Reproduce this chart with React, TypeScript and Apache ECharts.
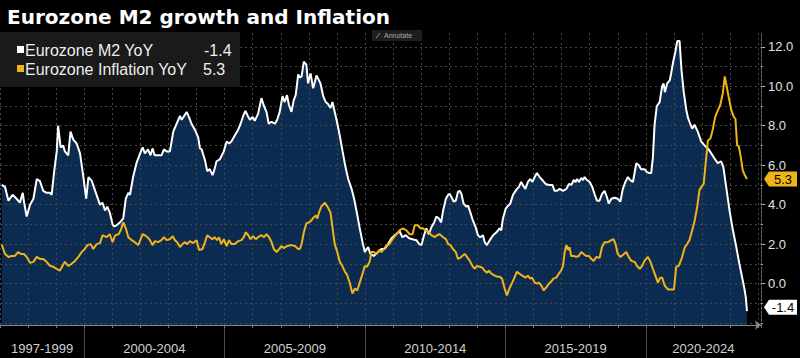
import React, { useEffect, useRef } from "react";
import * as echarts from "echarts";

// Eurozone M2 YoY (%), sampled along the time axis (decimal years)
const m2Years = [
  1997.06, 1997.18, 1997.3, 1997.45, 1997.59, 1997.71, 1997.81, 1997.86, 1997.95, 1998.07,
  1998.19, 1998.31, 1998.42, 1998.54, 1998.66, 1998.78, 1998.84, 1998.93, 1999.02, 1999.07,
  1999.16, 1999.25, 1999.31, 1999.43, 1999.51, 1999.61, 1999.73, 1999.85, 1999.96, 2000.07,
  2000.15, 2000.27, 2000.39, 2000.56, 2000.65, 2000.74, 2000.82, 2000.91, 2001.01, 2001.06,
  2001.15, 2001.27, 2001.39, 2001.48, 2001.57, 2001.63, 2001.74, 2001.86, 2001.99, 2002.08,
  2002.16, 2002.27, 2002.36, 2002.43, 2002.51, 2002.63, 2002.75, 2002.84, 2002.93, 2003.05,
  2003.17, 2003.29, 2003.41, 2003.47, 2003.56, 2003.65, 2003.74, 2003.82, 2003.94, 2004.06,
  2004.12, 2004.18, 2004.3, 2004.38, 2004.47, 2004.57, 2004.63, 2004.71, 2004.83, 2004.97,
  2005.07, 2005.16, 2005.24, 2005.36, 2005.48, 2005.57, 2005.66, 2005.74, 2005.84, 2005.9,
  2005.99, 2006.07, 2006.19, 2006.31, 2006.4, 2006.49, 2006.57, 2006.67, 2006.79, 2006.87,
  2006.96, 2007.06, 2007.14, 2007.22, 2007.29, 2007.38, 2007.46, 2007.53, 2007.62, 2007.68,
  2007.74, 2007.82, 2007.91, 2007.97, 2008.06, 2008.15, 2008.21, 2008.27, 2008.36, 2008.41,
  2008.51, 2008.6, 2008.68, 2008.77, 2008.84, 2008.92, 2009.0, 2009.1, 2009.2, 2009.29,
  2009.4, 2009.52, 2009.61, 2009.72, 2009.81, 2009.91, 2009.99, 2010.11, 2010.19, 2010.31,
  2010.46, 2010.58, 2010.7, 2010.82, 2010.94, 2011.06, 2011.23, 2011.33, 2011.45, 2011.57,
  2011.69, 2011.83, 2011.93, 2012.01, 2012.1, 2012.18, 2012.27, 2012.36, 2012.46, 2012.54,
  2012.63, 2012.71, 2012.78, 2012.88, 2012.96, 2013.01, 2013.07, 2013.16, 2013.23, 2013.31,
  2013.37, 2013.43, 2013.51, 2013.6, 2013.67, 2013.75, 2013.84, 2013.94, 2014.02, 2014.1,
  2014.2, 2014.26, 2014.34, 2014.44, 2014.56, 2014.68, 2014.79, 2014.85, 2014.91, 2015.01,
  2015.09, 2015.17, 2015.27, 2015.36, 2015.41, 2015.48, 2015.56, 2015.62, 2015.71, 2015.8,
  2015.88, 2015.96, 2016.04, 2016.12, 2016.22, 2016.31, 2016.43, 2016.55, 2016.67, 2016.75,
  2016.83, 2016.93, 2017.05, 2017.17, 2017.26, 2017.35, 2017.43, 2017.5, 2017.55, 2017.62,
  2017.7, 2017.76, 2017.82, 2017.9, 2018.0, 2018.09, 2018.17, 2018.26, 2018.35, 2018.44,
  2018.53, 2018.61, 2018.68, 2018.77, 2018.88, 2019.0, 2019.09, 2019.18, 2019.27, 2019.36,
  2019.44, 2019.54, 2019.66, 2019.75, 2019.83, 2019.95, 2020.04, 2020.13, 2020.19, 2020.25,
  2020.31, 2020.39, 2020.49, 2020.58, 2020.63, 2020.68, 2020.76, 2020.85, 2020.9, 2020.96,
  2021.05, 2021.12, 2021.2, 2021.27, 2021.35, 2021.44, 2021.5, 2021.58, 2021.65, 2021.73,
  2021.85, 2021.97, 2022.09, 2022.21, 2022.33, 2022.44, 2022.56, 2022.68, 2022.76, 2022.86,
  2022.98, 2023.1, 2023.22, 2023.33, 2023.43, 2023.51, 2023.56, 2023.6,
];
const m2Values = [
  5.0, 4.9, 4.2, 4.5, 4.3, 4.1, 4.6, 4.1, 3.4, 4.0,
  4.3, 5.3, 5.2, 4.7, 4.6, 4.6, 4.5, 5.7, 6.7, 8.0,
  6.9, 7.0, 6.7, 6.5, 7.7, 7.3, 7.1, 6.6, 5.5, 4.3,
  5.4, 5.2, 4.7, 4.0, 4.1, 3.7, 3.9, 3.6, 3.0, 2.9,
  2.95, 3.1, 3.3, 4.3, 4.6, 4.5, 5.4, 6.1, 6.6, 6.9,
  6.6, 6.8, 6.5, 6.85, 6.5, 6.5, 6.5, 6.8, 6.7, 6.7,
  7.7, 8.1, 8.5, 8.3, 8.5, 8.7, 8.4, 8.1, 7.8, 7.4,
  6.85, 6.8, 6.25, 5.7, 5.8, 5.5, 5.75, 6.2, 6.3, 6.7,
  7.2, 7.1, 7.2, 7.5, 7.8, 8.1, 8.5, 8.75, 8.45, 8.3,
  8.45, 8.25, 8.6, 9.4, 9.0, 8.7, 8.1, 8.2, 8.1, 8.3,
  8.7, 9.5, 9.2, 9.55, 9.05, 8.7, 9.3, 9.55, 10.6, 10.45,
  10.5, 11.25, 11.1, 10.15, 10.65, 9.9, 10.2, 10.55, 10.3, 10.15,
  9.5, 9.2, 9.1, 8.9, 9.2, 8.7, 8.2, 7.5, 6.7, 6.0,
  5.3, 4.8, 4.3, 3.5, 2.8, 2.1, 1.6, 1.85, 1.5, 1.4,
  1.6, 1.75, 1.75, 2.0, 2.3, 2.45, 2.65, 2.35, 2.45, 2.3,
  2.25, 2.2, 2.0, 1.95, 2.45, 2.8, 2.5, 2.85, 3.1, 3.4,
  3.3, 3.1, 3.7, 4.3, 4.5, 4.55, 4.4, 4.15, 4.2, 4.65,
  4.7, 4.55, 4.05, 3.9, 3.95, 3.6, 3.2, 2.85, 2.45, 2.35,
  2.45, 2.1, 1.95, 2.2, 2.45, 2.6, 2.8, 2.7, 3.3, 3.8,
  3.95, 4.05, 4.5, 4.7, 4.8, 4.9, 5.15, 5.0, 4.8, 5.15,
  5.3, 5.15, 5.4, 5.6, 5.4, 5.25, 5.05, 5.0, 5.0, 4.7,
  4.7, 4.8, 4.7, 4.8, 5.05, 5.0, 5.25, 5.15, 5.3, 5.15,
  5.35, 5.25, 5.4, 5.25, 5.15, 4.9, 4.55, 4.2, 4.2, 4.55,
  4.7, 4.4, 4.05, 4.3, 4.35, 4.3, 4.15, 4.8, 5.15, 5.4,
  5.25, 5.15, 6.1, 6.0, 5.8, 5.8, 5.65, 5.6, 5.6, 6.4,
  8.05, 9.0, 9.2, 10.0, 10.15, 9.7, 10.15, 10.3, 10.65, 11.15,
  11.75, 12.3, 12.3, 10.8, 9.7, 8.8, 8.4, 8.1, 7.85, 8.05,
  7.7, 7.2, 7.0, 6.85, 6.6, 6.35, 6.1, 6.2, 5.9, 4.9,
  3.7, 2.7, 1.85, 1.0, 0.3, -0.27, -0.7, -1.4,
];

// Eurozone Inflation YoY (%)
const cpiYears = [
  1997.06, 1997.18, 1997.3, 1997.41, 1997.53, 1997.65, 1997.74, 1997.85, 1997.95, 1998.07,
  1998.19, 1998.31, 1998.42, 1998.54, 1998.66, 1998.78, 1998.9, 1999.02, 1999.13, 1999.23,
  1999.31, 1999.43, 1999.55, 1999.67, 1999.79, 1999.91, 2000.02, 2000.11, 2000.23, 2000.32,
  2000.44, 2000.56, 2000.65, 2000.79, 2000.91, 2001.01, 2001.1, 2001.22, 2001.3, 2001.39,
  2001.48, 2001.57, 2001.69, 2001.8, 2001.92, 2002.01, 2002.08, 2002.16, 2002.25, 2002.34,
  2002.43, 2002.52, 2002.63, 2002.75, 2002.84, 2002.93, 2003.05, 2003.15, 2003.23, 2003.31,
  2003.41, 2003.5, 2003.58, 2003.67, 2003.76, 2003.88, 2004.0, 2004.09, 2004.21, 2004.3,
  2004.38, 2004.47, 2004.56, 2004.64, 2004.73, 2004.8, 2004.88, 2004.97, 2005.07, 2005.16,
  2005.24, 2005.36, 2005.48, 2005.6, 2005.68, 2005.75, 2005.84, 2005.92, 2006.01, 2006.11,
  2006.19, 2006.31, 2006.4, 2006.49, 2006.58, 2006.67, 2006.75, 2006.85, 2006.94, 2007.02,
  2007.1, 2007.22, 2007.38, 2007.5, 2007.62, 2007.68, 2007.74, 2007.82, 2007.91, 2008.0,
  2008.09, 2008.17, 2008.25, 2008.3, 2008.36, 2008.44, 2008.57, 2008.66, 2008.77, 2008.84,
  2008.92, 2009.01, 2009.1, 2009.19, 2009.28, 2009.36, 2009.46, 2009.55, 2009.64, 2009.72,
  2009.81, 2009.91, 2009.99, 2010.07, 2010.16, 2010.23, 2010.31, 2010.41, 2010.5, 2010.58,
  2010.67, 2010.77, 2010.86, 2010.98, 2011.09, 2011.23, 2011.35, 2011.47, 2011.59, 2011.69,
  2011.77, 2011.89, 2011.97, 2012.06, 2012.16, 2012.28, 2012.36, 2012.48, 2012.56, 2012.66,
  2012.78, 2012.88, 2012.96, 2013.04, 2013.13, 2013.23, 2013.31, 2013.39, 2013.46, 2013.55,
  2013.63, 2013.73, 2013.82, 2013.9, 2013.99, 2014.08, 2014.18, 2014.26, 2014.34, 2014.41,
  2014.5, 2014.62, 2014.7, 2014.79, 2014.88, 2014.97, 2015.05, 2015.14, 2015.24, 2015.32,
  2015.41, 2015.5, 2015.6, 2015.71, 2015.8, 2015.88, 2015.95, 2016.04, 2016.12, 2016.19,
  2016.28, 2016.36, 2016.45, 2016.55, 2016.63, 2016.71, 2016.81, 2016.9, 2016.98, 2017.05,
  2017.11, 2017.17, 2017.23, 2017.28, 2017.34, 2017.43, 2017.52, 2017.61, 2017.7, 2017.78,
  2017.88, 2017.97, 2018.06, 2018.14, 2018.24, 2018.35, 2018.44, 2018.53, 2018.65, 2018.77,
  2018.85, 2018.92, 2019.0, 2019.09, 2019.18, 2019.3, 2019.39, 2019.48, 2019.6, 2019.68,
  2019.78, 2019.87, 2019.95, 2020.07, 2020.15, 2020.25, 2020.34, 2020.43, 2020.51, 2020.58,
  2020.67, 2020.79, 2020.91, 2021.0, 2021.08, 2021.17, 2021.27, 2021.39, 2021.47, 2021.55,
  2021.65, 2021.74, 2021.83, 2021.91, 2021.98, 2022.06, 2022.14, 2022.21, 2022.3, 2022.38,
  2022.47, 2022.57, 2022.65, 2022.74, 2022.81, 2022.87, 2022.95, 2023.04, 2023.13, 2023.19,
  2023.25, 2023.31, 2023.37, 2023.45, 2023.52, 2023.6,
];
const cpiValues = [
  1.97, 1.5, 1.35, 1.4, 1.4, 1.6, 1.5, 1.5, 1.35, 1.05,
  1.1, 1.35, 1.25, 1.25, 1.1, 0.9, 0.85, 0.75, 0.65, 0.9,
  1.1, 0.9, 1.0, 1.15, 1.35, 1.6, 1.75, 1.95, 2.0, 1.75,
  2.0, 2.05, 2.45, 2.35, 2.5, 2.1, 2.45, 2.5, 2.7, 3.1,
  2.8, 2.35, 2.2, 2.1, 1.95, 2.25, 2.5, 2.45, 2.35, 2.2,
  1.95, 2.15, 2.1, 2.2, 2.35, 2.2, 2.25, 2.4, 2.2, 2.1,
  1.85, 2.0, 2.1, 2.0, 2.15, 2.05, 2.2, 1.7, 1.75, 2.1,
  2.45, 2.35, 2.25, 2.35, 2.2, 2.35, 2.0, 2.25, 1.9, 2.2,
  2.0, 2.0, 2.15, 2.2, 2.35, 2.6, 2.45, 2.25, 2.4, 2.25,
  2.35, 2.45, 2.35, 2.5, 2.35, 2.1, 1.75, 1.6, 1.75, 1.9,
  1.8, 1.9, 1.95, 1.9, 1.75, 1.75, 2.0, 2.6, 3.05, 3.1,
  3.2, 3.35, 3.45, 3.3, 3.6, 3.9, 4.1, 3.9, 3.6, 2.85,
  2.0, 1.6, 1.1, 0.9, 0.6, 0.45, 0.0, -0.5, -0.25, -0.35,
  0.05, 0.5, 0.9, 0.85, 1.1, 1.6, 1.6, 1.5, 1.7, 1.6,
  1.75, 1.95, 2.0, 2.25, 2.45, 2.7, 2.8, 2.7, 2.5, 2.5,
  2.95, 2.95, 2.8, 2.8, 2.7, 2.6, 2.45, 2.35, 2.45, 2.5,
  2.35, 2.25, 2.0, 1.95, 1.75, 1.6, 1.25, 1.3, 1.4, 1.5,
  1.35, 1.15, 0.9, 0.75, 0.9, 0.85, 0.8, 0.65, 0.55, 0.65,
  0.5, 0.4, 0.35, 0.35, 0.25, -0.25, -0.6, -0.25, 0.05, 0.3,
  0.6, 0.5, 0.4, 0.3, 0.4, 0.25, 0.3, 0.05, 0.0, 0.05,
  -0.1, -0.35, -0.2, 0.0, 0.1, 0.25, 0.3, 0.5, 0.65, 0.9,
  1.6, 1.95, 1.7, 1.85, 1.4, 1.4, 1.35, 1.4, 1.6, 1.5,
  1.4, 1.4, 1.25, 1.15, 1.35, 1.3, 1.85, 2.1, 2.1, 2.2,
  2.25, 2.0, 1.5, 1.35, 1.45, 1.6, 1.35, 1.15, 1.1, 0.9,
  0.75, 0.9, 1.15, 1.35, 1.15, 0.75, 0.4, 0.05, 0.3, 0.3,
  -0.1, -0.3, -0.3, -0.3, 0.85, 0.9, 1.25, 1.85, 2.0, 2.2,
  2.7, 3.2, 3.9, 4.75, 4.9, 5.05, 6.25, 7.25, 7.35, 7.8,
  8.45, 8.8, 9.05, 9.65, 10.5, 10.05, 9.45, 8.8, 8.45, 8.35,
  7.0, 6.95, 6.5, 5.75, 5.5, 5.3,
];

const seriesNames = ["Eurozone M2 YoY", "Eurozone Inflation YoY"];
const periodStarts = [1997, 2000, 2005, 2010, 2015, 2020];
const periodLabels = ["1997-1999", "2000-2004", "2005-2009", "2010-2014", "2015-2019", "2020-2024"];
const yLabelValues = [0, 2, 4, 6, 8, 10, 12];
const yGridValues = [-2, -1, 0, 1, 2, 3, 4, 5, 6, 7, 8, 9, 10, 11, 12];

const X_MIN = 1997;
const X_MAX = 2024.1;
const Y_MIN = -2.1;
const Y_MAX = 12.7;

const WHITE = "#ffffff";
const GOLD = "#f0b31a";
const NAVY = "#0c2b50";
const FONT = "Liberation Sans";

export default function App() {
  const ref = useRef<HTMLDivElement>(null);

  useEffect(() => {
    const chart = echarts.init(ref.current as HTMLDivElement, null, { renderer: "svg" });

    const n1 = Math.min(m2Years.length, m2Values.length);
    const n2 = Math.min(cpiYears.length, cpiValues.length);
    const m2Data = m2Years.slice(0, n1).map((x, i) => [x, m2Values[i]]);
    const cpiData = cpiYears.slice(0, n2).map((x, i) => [x, cpiValues[i]]);

    const periodCenters = periodStarts.map((s, i) => {
      const e = i + 1 < periodStarts.length ? periodStarts[i + 1] : s + 5;
      return (Math.max(s, X_MIN) + Math.min(e, X_MAX)) / 2;
    });

    const lastM2 = m2Data[m2Data.length - 1];
    const lastCpi = cpiData[cpiData.length - 1];

    chart.setOption({
      animation: false,
      backgroundColor: "#000000",
      title: {
        text: "Eurozone M2 growth and Inflation",
        left: 2,
        top: 2,
        textStyle: { color: "#ffffff", fontSize: 20, fontWeight: "bold", fontFamily: "DejaVu Sans" },
      },
      grid: { left: 0, right: 39, top: 33, bottom: 33, containLabel: false },
      xAxis: [
        {
          type: "value",
          min: X_MIN,
          max: X_MAX,
          position: "bottom",
          z: 3,
          axisLine: {
            show: true,
            onZero: false,
            lineStyle: { color: "#8a8a8a", width: 1 },
            symbol: ["none", "arrow"],
            symbolSize: [7, 6],
          },
          axisTick: {
            show: true,
            customValues: periodStarts.slice(1),
            length: 33,
            lineStyle: { color: "#4a4a4a", width: 1 },
          },
          axisLabel: {
            show: true,
            customValues: periodCenters,
            margin: 17,
            color: "#d0d0d0",
            fontSize: 13,
            fontFamily: FONT,
            formatter: (v: number) => {
              const i = periodCenters.findIndex((c) => Math.abs(c - v) < 1e-6);
              return i >= 0 ? periodLabels[i] : "";
            },
          },
          splitLine: { show: false },
        },
        {
          type: "value",
          min: X_MIN,
          max: X_MAX,
          interval: 1,
          position: "bottom",
          z: 3,
          axisLine: { show: false, onZero: false },
          axisTick: { show: true, length: 3, lineStyle: { color: "#777" } },
          axisLabel: { show: false },
          splitLine: { show: true, lineStyle: { color: "#464646", type: [2, 3], width: 1 } },
        },
      ],
      yAxis: [
        {
          type: "value",
          min: Y_MIN,
          max: Y_MAX,
          position: "right",
          z: 3,
          axisLine: { show: true, onZero: false, lineStyle: { color: "#6a6a6a", type: [2, 2] } },
          axisTick: {
            show: true,
            customValues: yLabelValues,
            length: 4,
            lineStyle: { color: "#bbbbbb" },
          },
          axisLabel: {
            show: true,
            customValues: yLabelValues,
            margin: 7,
            color: "#e0e0e0",
            fontSize: 13,
            fontFamily: FONT,
            formatter: (v: number) => v.toFixed(1),
          },
          splitLine: { show: false },
        },
        {
          type: "value",
          min: Y_MIN,
          max: Y_MAX,
          position: "right",
          z: 3,
          axisLine: { show: false, onZero: false },
          axisTick: {
            show: true,
            customValues: yGridValues,
            length: 2,
            lineStyle: { color: "#999999" },
          },
          axisLabel: { show: false },
          splitLine: { show: true, lineStyle: { color: "#464646", type: [2, 3], width: 1 } },
        },
      ],
      series: [
        {
          name: seriesNames[0] + " area",
          type: "line",
          xAxisIndex: 0,
          yAxisIndex: 0,
          data: m2Data,
          showSymbol: false,
          silent: true,
          lineStyle: { width: 0, opacity: 0 },
          areaStyle: { color: NAVY, opacity: 1, origin: "start" },
          z: 1,
        },
        {
          name: seriesNames[0],
          type: "line",
          xAxisIndex: 0,
          yAxisIndex: 0,
          data: m2Data,
          showSymbol: false,
          lineStyle: { color: WHITE, width: 2 },
          z: 5,
        },
        {
          name: seriesNames[1],
          type: "line",
          xAxisIndex: 0,
          yAxisIndex: 0,
          data: cpiData,
          showSymbol: false,
          lineStyle: { color: GOLD, width: 2 },
          z: 6,
        },
      ],
    });

    const pM2 = chart.convertToPixel({ xAxisIndex: 0, yAxisIndex: 0 }, lastM2 as number[]) as number[];
    const pCpi = chart.convertToPixel({ xAxisIndex: 0, yAxisIndex: 0 }, lastCpi as number[]) as number[];
    const tagX = 764;
    const tag = (y: number, fill: string, label: string) => [
      {
        type: "polygon",
        z: 100,
        shape: {
          points: [
            [tagX, y],
            [tagX + 5, y - 7.5],
            [797, y - 7.5],
            [797, y + 7.5],
            [tagX + 5, y + 7.5],
          ],
        },
        style: { fill },
      },
      {
        type: "text",
        z: 101,
        style: {
          text: label,
          x: 783,
          y: y + 0.5,
          align: "center",
          verticalAlign: "middle",
          fill: "#000000",
          fontSize: 13,
          fontFamily: FONT,
        },
      },
    ];

    chart.setOption({
      graphic: [
        { type: "rect", z: 100, shape: { x: 0, y: 32, width: 240, height: 55 }, style: { fill: "#1a1a1a" } },
        { type: "rect", z: 101, shape: { x: 17, y: 46, width: 7, height: 7 }, style: { fill: WHITE } },
        {
          type: "text",
          z: 101,
          style: { text: seriesNames[0], x: 25, y: 50, verticalAlign: "middle", fill: "#eeeeee", fontSize: 16, fontFamily: FONT },
        },
        {
          type: "text",
          z: 101,
          style: { text: (lastM2[1] as number).toFixed(1), x: 204, y: 50, verticalAlign: "middle", fill: "#eeeeee", fontSize: 16, fontFamily: FONT },
        },
        { type: "rect", z: 101, shape: { x: 17, y: 65, width: 7, height: 7 }, style: { fill: GOLD } },
        {
          type: "text",
          z: 101,
          style: { text: seriesNames[1], x: 25, y: 69, verticalAlign: "middle", fill: "#eeeeee", fontSize: 16, fontFamily: FONT },
        },
        {
          type: "text",
          z: 101,
          style: { text: (lastCpi[1] as number).toFixed(1), x: 203, y: 69, verticalAlign: "middle", fill: "#eeeeee", fontSize: 16, fontFamily: FONT },
        },
        // "Annotate" button
        { type: "rect", z: 100, shape: { x: 372, y: 30, width: 50, height: 11 }, style: { fill: "#1e1e1e" } },
        { type: "line", z: 101, shape: { x1: 376, y1: 38, x2: 380, y2: 33 }, style: { stroke: "#888888", lineWidth: 1 } },
        {
          type: "text",
          z: 101,
          style: { text: "Annotate", x: 384, y: 35.5, verticalAlign: "middle", fill: "#aaaaaa", fontSize: 7, fontFamily: FONT },
        },
        ...tag(pCpi[1], GOLD, (lastCpi[1] as number).toFixed(1)),
        ...tag(pM2[1] - 4, WHITE, (lastM2[1] as number).toFixed(1)),
      ],
    });

    return () => {
      chart.dispose();
    };
  }, []);

  return (
    <div
      ref={ref}
      style={{ position: "fixed", left: 0, top: 0, width: 800, height: 358, background: "#000" }}
    />
  );
}
